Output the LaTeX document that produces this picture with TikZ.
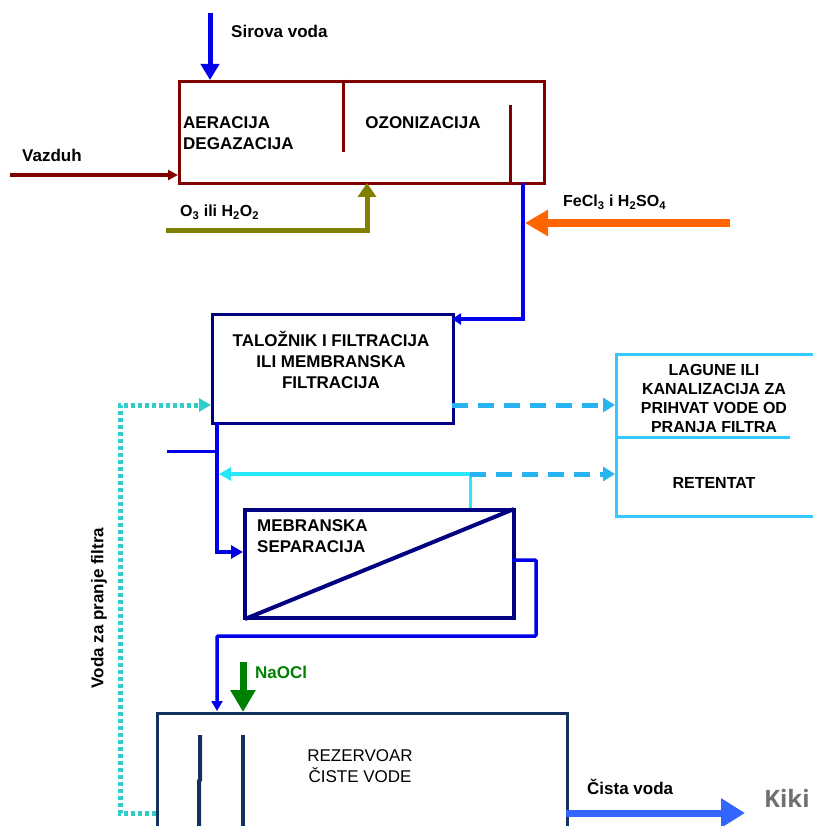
\documentclass[tikz,border=0pt]{standalone}
\usepackage{fontspec}
\setmainfont{Liberation Sans}
\newfontfamily\signfont{Open Sans}
\usetikzlibrary{arrows.meta,calc}

\definecolor{aerred}{RGB}{128,0,0}
\definecolor{navyline}{RGB}{0,0,128}
\definecolor{flowblue}{RGB}{0,0,235}
\definecolor{olivefeed}{RGB}{128,128,0}
\definecolor{acidorange}{RGB}{255,102,0}
\definecolor{wasteblue}{RGB}{51,200,255}
\definecolor{wastedash}{RGB}{40,180,240}
\definecolor{retcyan}{RGB}{40,230,250}
\definecolor{washteal}{RGB}{51,204,204}
\definecolor{chlorgreen}{RGB}{0,128,0}
\definecolor{tankblue}{RGB}{20,50,95}
\definecolor{outblue}{RGB}{51,102,255}
\definecolor{signgray}{RGB}{112,112,112}

\begin{document}
\begin{tikzpicture}[x=1pt,y=-1pt,
  box/.style={draw,rectangle,inner sep=0pt,anchor=north west},
  lbl/.style={font=\fontsize{17}{21}\selectfont\bfseries,inner sep=0pt,align=center},
  smalllbl/.style={font=\fontsize{16}{19}\selectfont\bfseries,inner sep=0pt,align=center},
  plainlbl/.style={font=\fontsize{17}{21}\selectfont,inner sep=0pt,align=center}
]
\useasboundingbox (0,0) rectangle (812,826);

% ---------- aeration / ozonation tank ----------
\node[box,draw=aerred,line width=3pt,minimum width=365pt,minimum height=102pt] (aer) at (178,80) {};
\draw[aerred,line width=3pt] (343,80) -- (343,152);
\draw[aerred,line width=3pt] (510,105) -- (510,182);
\node[lbl,anchor=west,align=left] (aertxt) at (183,133) {AERACIJA\\DEGAZACIJA};
\node[lbl] (ozotxt) at (423,123) {OZONIZACIJA};

% raw water inlet
\coordinate (rawin) at (210,13);
\draw[flowblue,line width=5pt,-{Triangle[length=16pt,width=18pt]}] (rawin) -- (rawin |- aer.north);
\node[lbl,anchor=west] (rawlbl) at (231,31) {Sirova voda};

% air inlet
\coordinate (airin) at (10,175);
\draw[aerred,line width=3.5pt,-{Triangle[length=10pt,width=10pt]}] (airin) -- (airin -| aer.west);
\node[lbl,anchor=west] (airlbl) at (22,155) {Vazduh};

% oxidant feed
\coordinate (ozin) at (166,230);
\coordinate (ozport) at (367,183);
\draw[olivefeed,line width=5pt,-{Triangle[length=14pt,width=18pt]}] (ozin) -| (ozport);
\node[smalllbl,anchor=west] (ozlbl) at (180,212) {O\textsubscript{3} ili H\textsubscript{2}O\textsubscript{2}};

% ---------- sedimentation / filtration ----------
\node[box,draw=navyline,line width=3pt,minimum width=241pt,minimum height=109pt] (tal) at (211,313) {};
\node[lbl] (taltxt) at (331,360) {TALOŽNIK I FILTRACIJA\\ILI MEMBRANSKA\\FILTRACIJA};

% ozonated water to the settler
\coordinate (ozout) at (523,183);
\coordinate (talin) at (452,319);
\draw[flowblue,line width=4pt,-{Triangle[length=9pt,width=11pt]}] (ozout) |- (talin);

% coagulant dosing
\coordinate (fein) at (730,223);
\coordinate (feport) at (525,223);
\draw[acidorange,line width=8pt,-{Triangle[length=23pt,width=25pt]}] (fein) -- (feport);
\node[smalllbl,anchor=west] (felbl) at (563,202) {FeCl\textsubscript{3} i H\textsubscript{2}SO\textsubscript{4}};

% ---------- lagoons / sewer and retentate ----------
\node[box,draw=wasteblue,line width=3pt,minimum width=215pt,minimum height=162pt] (lag) at (615,353) {};
\draw[wasteblue,line width=3pt] (615,437) -- (790,437);
\node[smalllbl] (lagtxt) at (714,398) {LAGUNE ILI\\KANALIZACIJA ZA\\PRIHVAT VODE OD\\PRANJA FILTRA};
\node[smalllbl] (rettxt) at (714,483) {RETENTAT};

% backwash water to lagoons
\coordinate (talout) at (452,405);
\draw[wastedash,line width=5pt,dash pattern=on 16pt off 10pt,-{Triangle[length=12pt,width=14pt]}] (talout) -- (talout -| lag.west);

% ---------- membrane separation ----------
\node[box,draw=navyline,line width=4pt,minimum width=269pt,minimum height=108pt] (mem) at (243,508) {};
\draw[navyline,line width=4pt] ($(mem.south west)+(2,-1)$) -- ($(mem.north east)+(-2,1)$);
\node[lbl,anchor=west,align=left] (memtxt) at (257,536) {MEBRANSKA\\SEPARACIJA};

% settler outlet to membranes
\coordinate (talbot) at (217,422);
\coordinate (memin) at (243,552);
\draw[flowblue,line width=4pt,-{Triangle[length=12pt,width=13pt]}] (talbot) |- (memin);
\coordinate (bypass) at (167,451);
\draw[flowblue,line width=3pt] (bypass) -- (bypass -| talbot);

% retentate split
\coordinate (retsplit) at (470,474);
\coordinate (retjoin) at (219,474);
\draw[retcyan,line width=3pt] (retsplit |- mem.north) -- (retsplit);
\draw[retcyan,line width=4pt,-{Triangle[length=12pt,width=13pt]}] (retsplit) -- (retjoin);
\draw[wastedash,line width=5pt,dash pattern=on 16pt off 10pt,-{Triangle[length=12pt,width=14pt]}] (retsplit) -- (retsplit -| lag.west);

% ---------- clean water reservoir ----------
\node[box,draw=tankblue,line width=3pt,minimum width=410pt,minimum height=116pt] (rez) at (156,712) {};
\draw[tankblue,line width=4pt] (200,735) -- (200,780) -- (199,781) -- (199,830);
\draw[tankblue,line width=4pt] (243,735) -- (243,830);
\node[plainlbl] (reztxt) at (360,766) {REZERVOAR\\ČISTE VODE};

% permeate to reservoir
\coordinate (memout) at (512,560);
\coordinate (rezin) at (217,711);
\draw[flowblue,line width=3.5pt,rounded corners=1pt,-{Triangle[length=10pt,width=11pt]}] (memout) -- (536,560) -- (536,636) -| (rezin);

% chlorine dosing
\coordinate (clin) at (243,662);
\draw[chlorgreen,line width=7pt,-{Triangle[length=22pt,width=24pt]}] (clin) -- (clin |- rez.north);
\node[lbl,anchor=west,text=chlorgreen] (cllbl) at (255,672) {NaOCl};

% clean water outlet
\coordinate (rezout) at (566,813);
\coordinate (cleanend) at (745,813);
\draw[outblue,line width=7pt,-{Triangle[length=24pt,width=28pt]}] (rezout) -- (cleanend);
\node[lbl,anchor=west] (cleanlbl) at (587,787) {Čista voda};

% filter backwash water
\coordinate (washout) at (156,813);
\coordinate (washin) at (211,405);
\draw[washteal,line width=5pt,dash pattern=on 4pt off 3pt,-{Triangle[length=12pt,width=13pt]}]
  (washout) -- (120,813) -- (120,405) -- (washin);
\node[lbl,rotate=90] (washlbl) at (99,608) {Voda za pranje filtra};

% signature
\node[font=\signfont\bfseries\fontsize{24}{24}\selectfont,text=signgray,anchor=base west,inner sep=0pt] (sign) at (764,807) {Kiki};
\end{tikzpicture}
\end{document}
